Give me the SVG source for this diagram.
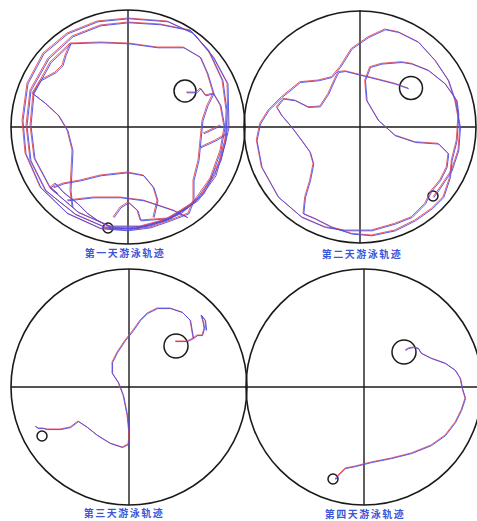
<svg xmlns="http://www.w3.org/2000/svg" width="477" height="521" viewBox="0 0 477 521">
<style>
.pool{fill:none;stroke:#1a1a1a;stroke-width:1.6}
.axis{stroke:#1a1a1a;stroke-width:1.4}
.plat{fill:none;stroke:#1a1a1a;stroke-width:1.5}
.r{fill:none;stroke:#e8484f;stroke-width:0.9;stroke-linejoin:round}
.b{fill:none;stroke:#4a4ae6;stroke-width:0.9;stroke-linejoin:round}
.lbl{font-family:"Noto Sans CJK SC","Liberation Serif",serif;font-size:10px;font-weight:bold;fill:#3c56d8;text-anchor:middle;letter-spacing:1.5px}
</style>
<defs>
<path id="t1" d="M186,92 L196,92 L200,88 L205,95 L213,93 L207,105 L202,120 L200,140 L198,160 L193,180 L193,200 L188,213 L170,220 L150,227 L127,230 L100,228 L67,213 L40,187 L25,153 L22,120 L27,83 L43,53 L67,33 L97,21 L128,18 L167,21 L193,33 L213,57 L227,83 L228,127 L220,160 L203,193 L180,213 L150,225 L128,228 L105,227 L75,214 L45,190 L30,160 L26,125 L30,90 L48,58 L72,36 L100,25 L128,22 L160,24 L190,30 L208,50 L222,80 L226,110 L225,140 L215,175 L197,200 L170,218 L140,226 L110,226 L78,212 L50,188 L34,158 L30,125 L33,93 L50,62 L70,43 L100,42 L128,43 L157,47 L183,47 L200,57 L207,73 L213,93 L220,105 L224,127 L220,150 L210,178 L193,202 L165,220 L135,228 L108,228 M70,43 L65,55 L62,65 L55,72 L40,80 L32,93 L45,103 L58,115 L67,130 L72,150 L71,170 L70,190 L72,207 M200,147 L215,140 L227,133 M203,133 L220,125 M53,187 L63,183 L80,180 L100,175 L127,172 L143,175 L153,187 L157,200 L153,217 M67,200 L93,197 L120,197 L143,200 L173,210 L187,217 M57,193 L50,187 L55,183 L63,192 L77,203 L87,213 L97,220 L110,227 M113,217 L120,207 L128,202 L137,210 L140,220 L167,218 L187,207"/>
<path id="t2" d="M408,88 L394.7,83.3 L378,79 L364.7,75.7 L344.7,70.7 L338,71.7 L334.7,78.3 L328,93.3 L319.7,106 L308,106.7 L294.7,100 L283,98.3 L276.3,106.7 L281.3,115 L291.3,126.7 L301.3,140 L309.7,151.7 L313,163.3 L309.7,180 L304.7,196.7 L303,213.3 L314.7,218.3 L331.3,226.7 L351.3,233.3 L371.3,235 L394.7,230 L414.7,220 L431.3,208.3 L443,196.7 L449.7,176.7 L451.3,160 L456.3,140 L458,113.3 L456.3,100 L444.7,83.3 L428,70 L411.3,63.3 L401.3,61.7 L381.3,63.3 L369.7,66.7 L364.7,80 L366.3,100 L378,120 L394.7,135 L414.7,141.7 L438,143.3 L448,153.3 L446.3,166.7 L439.7,180 L431.3,190 L424.7,203.3 L411.3,216.7 L394.7,223.3 L371.3,230 L344.7,230 L324.7,226.7 L301.3,216.7 L278,196.7 L261.3,166.7 L256.3,140 L259.7,123.3 L268,110 L281.3,96.7 L299.7,81.7 L318,80 L331.3,76.7 L339.7,66.7 L351.3,48.3 L368,36.7 L384.7,29 L398,31.7 L418,41.7 L434.7,60 L448,80 L454.7,100 L459.7,126.7 L458,150 L451.3,170 L438,190 L433,196.7"/>
<path id="t3" d="M175,341 L187,341 L193,338 L197,335 L202,335 L204,328 L203,322 L201,315 L205,320 L206,330 M193,338 L190,320 L182,312 L170,308 L157,308 L147,313 L140,320 L133,330 L125,340 L117,352 L112,362 L112,373 L118,382 L123,395 L127,415 L129,435 L128,444 L122,447 L110,443 L97,435 L87,427 L78,421 L70,427 L60,429 L47,429 L43,428 L38,428 L35,426"/>
<path id="t4" d="M405,350 L408,348 L413,347 L418,348 L421,353 L431,358 L445,363 L455,370 L460,378 L462,388 L465,398 L461,410 L455,422 L445,435 L431,445 L411,453 L391,458 L371,462 L355,466 L345,468 L338,475 L335,479"/>
</defs>
<g id="pool1">
<circle class="pool" cx="128" cy="127" r="117"/>
<line class="axis" x1="128" y1="10" x2="128" y2="244"/>
<circle class="plat" cx="185" cy="91" r="11"/>
<circle class="plat" cx="108" cy="228" r="5"/>
</g>
<g id="pool2">
<circle class="pool" cx="360" cy="127" r="116"/>
<line class="axis" x1="360" y1="10" x2="360" y2="243"/>
<circle class="plat" cx="411" cy="88" r="11.5"/>
<circle class="plat" cx="433" cy="196" r="5"/>
</g>
<g id="pool3">
<circle class="pool" cx="129" cy="387" r="118"/>
<line class="axis" x1="129" y1="269" x2="129" y2="505"/>
<circle class="plat" cx="176" cy="346" r="12"/>
<circle class="plat" cx="42" cy="436" r="5"/>
</g>
<g id="pool4">
<circle class="pool" cx="364" cy="387" r="118"/>
<line class="axis" x1="364" y1="269" x2="364" y2="505"/>
<circle class="plat" cx="404" cy="352" r="12"/>
<circle class="plat" cx="333" cy="479" r="5"/>
</g>
<g id="axes">
<line class="axis" x1="11" y1="127" x2="476" y2="127"/>
<line class="axis" x1="11" y1="387" x2="477" y2="387"/>
</g>
<g id="tracks">
<use href="#t1" class="r"/>
<use href="#t1" class="b" transform="translate(1,0.8)"/>
<use href="#t2" class="r"/>
<use href="#t2" class="b" transform="translate(0.8,0.8)"/>
<use href="#t3" class="r"/>
<use href="#t3" class="b" transform="translate(0.6,0.6)"/>
<use href="#t4" class="r"/>
<use href="#t4" class="b" transform="translate(0.6,0.6)"/>
</g>
<g id="labels">
<text class="lbl" x="125" y="257">第一天游泳轨迹</text>
<text class="lbl" x="362" y="258">第二天游泳轨迹</text>
<text class="lbl" x="124" y="517">第三天游泳轨迹</text>
<text class="lbl" x="365" y="518">第四天游泳轨迹</text>
</g>
</svg>
